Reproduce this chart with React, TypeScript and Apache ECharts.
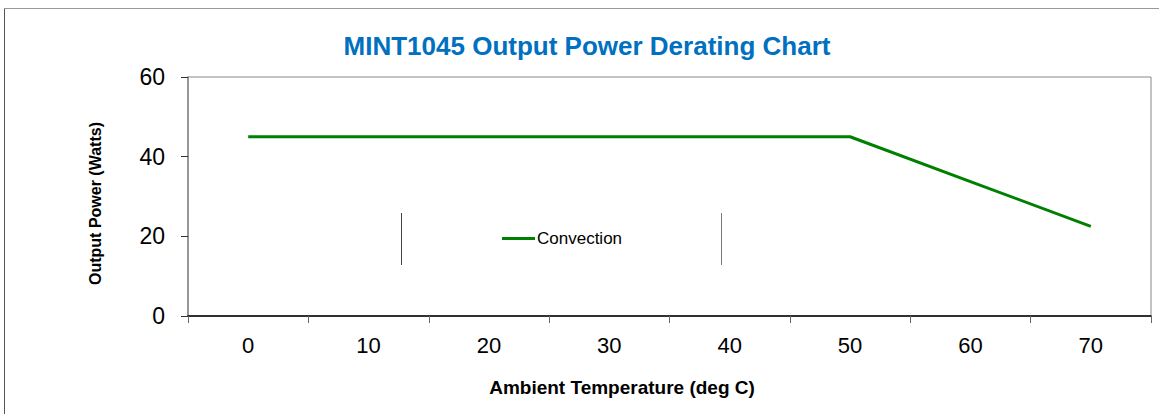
import React, { useEffect, useRef } from "react";
import * as echarts from "echarts";

const temperatures = ["0", "10", "20", "30", "40", "50", "60", "70"];
const convectionPower = [45, 45, 45, 45, 45, 45, 33.75, 22.5];
const yTicks = { min: 0, max: 60, interval: 20 };

const FONT = "'Liberation Sans', Arial, sans-serif";

export default function App() {
  const ref = useRef<HTMLDivElement>(null);
  useEffect(() => {
    document.body.style.margin = "0";
    const chart = echarts.init(ref.current!, null, { renderer: "svg" });
    chart.setOption({
      animation: false,
      backgroundColor: "#fff",
      textStyle: { fontFamily: FONT },
      title: {
        text: "MINT1045 Output Power Derating Chart",
        left: 582,
        top: 28,
        textAlign: "center",
        textStyle: { color: "#0070C0", fontSize: 26, fontWeight: "bold", fontFamily: FONT },
      },
      grid: {
        left: 188,
        top: 77,
        right: 8,
        bottom: 98,
        show: true,
        borderColor: "#888",
        borderWidth: 1,
        containLabel: false,
      },
      legend: {
        left: 502,
        top: 230,
        padding: 0,
        icon: "rect",
        itemWidth: 33,
        itemHeight: 3,
        itemGap: 4,
        textStyle: { fontSize: 17, color: "#000", fontFamily: FONT, padding: [0, 0, 0, -3] },
        data: ["Convection"],
      },
      xAxis: {
        type: "category",
        data: temperatures,
        boundaryGap: true,
        axisLine: { lineStyle: { color: "#000", width: 1.5 } },
        axisTick: { show: true, length: 7, lineStyle: { color: "#666" } },
        axisLabel: { fontSize: 22, color: "#000", margin: 18, fontFamily: FONT },
        name: "Ambient Temperature (deg C)",
        nameLocation: "middle",
        nameGap: 62,
        nameTextStyle: {
          fontSize: 19,
          fontWeight: "bold",
          color: "#000",
          fontFamily: FONT,
          padding: [0, 95, 0, 0],
        },
        splitLine: { show: false },
      },
      yAxis: {
        type: "value",
        min: yTicks.min,
        max: yTicks.max,
        interval: yTicks.interval,
        axisLine: { show: true, lineStyle: { color: "#888", width: 1.5 } },
        axisTick: { show: true, length: 7, lineStyle: { color: "#333" } },
        axisLabel: { fontSize: 23, color: "#000", margin: 23, fontFamily: FONT },
        splitLine: { show: false },
        name: "Output Power (Watts)",
        nameLocation: "middle",
        nameRotate: 90,
        nameGap: 85,
        nameTextStyle: {
          fontSize: 16,
          fontWeight: "bold",
          color: "#000",
          fontFamily: FONT,
          padding: [0, 14, 0, 0],
        },
      },
      series: [
        {
          name: "Convection",
          type: "line",
          data: convectionPower,
          symbol: "none",
          lineStyle: { color: "#008000", width: 3 },
          itemStyle: { color: "#008000" },
        },
      ],
      graphic: [
        { type: "line", shape: { x1: 4.5, y1: 8.5, x2: 1159, y2: 8.5 }, style: { stroke: "#999", lineWidth: 1 } },
        { type: "line", shape: { x1: 4.5, y1: 8.5, x2: 4.5, y2: 414 }, style: { stroke: "#555", lineWidth: 1 } },
        { type: "line", shape: { x1: 401.5, y1: 213, x2: 401.5, y2: 265 }, style: { stroke: "#444", lineWidth: 1 } },
        { type: "line", shape: { x1: 721.5, y1: 213, x2: 721.5, y2: 265 }, style: { stroke: "#777", lineWidth: 1 } },
      ],
    });
    return () => chart.dispose();
  }, []);
  return <div ref={ref} style={{ width: 1159, height: 414 }} />;
}
